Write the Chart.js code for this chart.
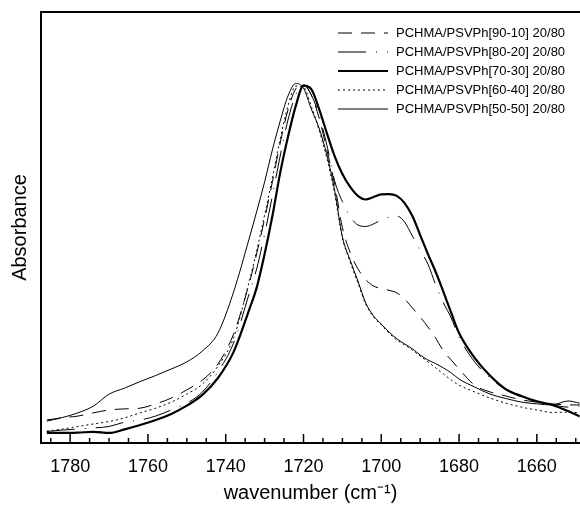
<!DOCTYPE html>
<html>
<head>
<meta charset="utf-8">
<script src="https://cdn.jsdelivr.net/npm/chart.js@4"></script>
<style>
  html, body { margin: 0; padding: 0; background: #fff; overflow: hidden; }
  #marco { width: 580px; height: 507px; }
  canvas { display: block; }
</style>
</head>
<body>
<div id="marco"><canvas id="graficoIR"></canvas></div>
<script>
const numerosOnda = [1786, 1782, 1778, 1774, 1770, 1766, 1762, 1758, 1754, 1750, 1746, 1742, 1738, 1734,
    1732, 1730, 1728, 1726, 1724, 1722, 1720, 1718, 1716, 1714, 1712, 1710, 1708, 1706, 1704, 1702, 1700,
    1698, 1696, 1694, 1692, 1690, 1688, 1686, 1684, 1682, 1680,
    1676, 1672, 1668, 1664, 1660, 1656, 1652, 1649];

const abs90_10 = [0.061, 0.070, 0.075, 0.084, 0.092, 0.095, 0.097, 0.109, 0.125, 0.148, 0.175, 0.220, 0.303, 0.443,
    0.529, 0.624, 0.727, 0.835, 0.927, 0.986, 0.997, 0.969, 0.905, 0.816, 0.720, 0.600, 0.530, 0.485, 0.455, 0.437, 0.430,
    0.425, 0.418, 0.401, 0.376, 0.351, 0.323, 0.292, 0.256, 0.231, 0.206,
    0.161, 0.142, 0.131, 0.120, 0.114, 0.109, 0.106, 0.106];

const abs80_20 = [0.032, 0.036, 0.039, 0.042, 0.046, 0.058, 0.064, 0.075, 0.092, 0.111, 0.142, 0.198, 0.278, 0.415,
    0.487, 0.582, 0.688, 0.799, 0.899, 0.969, 0.997, 0.969, 0.913, 0.830, 0.730, 0.672, 0.630, 0.607, 0.603, 0.610, 0.621,
    0.629, 0.632, 0.615, 0.576, 0.537, 0.498, 0.440, 0.390, 0.348, 0.295,
    0.226, 0.181, 0.148, 0.128, 0.114, 0.106, 0.100, 0.103];

const abs70_30 = [0.028, 0.028, 0.029, 0.031, 0.028, 0.038, 0.050, 0.064, 0.081, 0.104, 0.134, 0.181, 0.253, 0.370,
    0.434, 0.526, 0.632, 0.752, 0.852, 0.938, 0.995, 0.985, 0.930, 0.863, 0.799, 0.749, 0.713, 0.688, 0.678, 0.685, 0.692,
    0.693, 0.688, 0.668, 0.632, 0.579, 0.526, 0.476, 0.420, 0.362, 0.306,
    0.237, 0.187, 0.150, 0.131, 0.116, 0.106, 0.089, 0.074];

const abs60_40 = [0.033, 0.039, 0.046, 0.053, 0.060, 0.070, 0.084, 0.097, 0.114, 0.136, 0.164, 0.214, 0.292, 0.448,
    0.537, 0.635, 0.738, 0.846, 0.938, 0.994, 0.991, 0.938, 0.871, 0.793, 0.695, 0.571, 0.504, 0.445, 0.387, 0.351, 0.329,
    0.306, 0.287, 0.273, 0.259, 0.242, 0.226, 0.209, 0.192, 0.175, 0.161,
    0.142, 0.125, 0.111, 0.100, 0.092, 0.085, 0.086, 0.084];

const abs50_50 = [0.064, 0.071, 0.084, 0.103, 0.136, 0.153, 0.171, 0.188, 0.206, 0.226, 0.256, 0.306, 0.420, 0.568,
    0.646, 0.727, 0.816, 0.896, 0.966, 1.001, 0.988, 0.930, 0.877, 0.802, 0.704, 0.574, 0.509, 0.451, 0.390, 0.354, 0.331,
    0.309, 0.290, 0.276, 0.262, 0.245, 0.231, 0.221, 0.209, 0.195, 0.178,
    0.156, 0.136, 0.124, 0.114, 0.109, 0.106, 0.117, 0.111];

const etiquetas = ['PCHMA/PSVPh[90-10] 20/80', 'PCHMA/PSVPh[80-20] 20/80', 'PCHMA/PSVPh[70-30] 20/80',
    'PCHMA/PSVPh[60-40] 20/80', 'PCHMA/PSVPh[50-50] 20/80'];

const ejeX = { min: 1648.9, max: 1787.5, paso: 5, pasoEtiqueta: 20 };

function puntos(valores) {
    return valores.map((v, i) => ({ x: numerosOnda[i], y: v }));
}

Chart.defaults.font.family = '"Liberation Sans", Arial, Helvetica, sans-serif';
Chart.defaults.color = '#000';

// Leyenda dibujada dentro del área del gráfico, arriba a la derecha
const leyenda = {
    id: 'leyenda',
    afterDraw(chart) {
        const ctx = chart.ctx;
        const area = chart.chartArea;
        chart.data.datasets.forEach((ds, i) => {
            const y = area.top + 21 + i * 19;
            const x0 = area.right - 242;
            ctx.save();
            ctx.strokeStyle = '#000';
            ctx.lineWidth = ds.borderWidth;
            ctx.setLineDash(ds.borderDash || []);
            ctx.beginPath();
            ctx.moveTo(x0, y);
            ctx.lineTo(x0 + 50, y);
            ctx.stroke();
            ctx.setLineDash([]);
            ctx.fillStyle = '#000';
            ctx.font = '13px "Liberation Sans", Arial, sans-serif';
            ctx.textBaseline = 'middle';
            ctx.fillText(ds.label, x0 + 58, y);
            ctx.restore();
        });
    }
};

// Marcas del eje x hacia dentro y línea superior del marco
const marcas = {
    id: 'marcas',
    afterDraw(chart) {
        const ctx = chart.ctx;
        const area = chart.chartArea;
        const sx = chart.scales.x;
        ctx.save();
        ctx.strokeStyle = '#000';
        ctx.lineWidth = 1.5;
        sx.ticks.forEach(t => {
            const px = sx.getPixelForValue(t.value);
            const largo = t.value % ejeX.pasoEtiqueta === 0 ? 9 : 5;
            ctx.beginPath();
            ctx.moveTo(px, area.bottom);
            ctx.lineTo(px, area.bottom - largo);
            ctx.stroke();
        });
        ctx.lineWidth = 2;
        ctx.beginPath();
        ctx.moveTo(area.left - 1, area.top);
        ctx.lineTo(area.right, area.top);
        ctx.stroke();
        ctx.restore();
    }
};

const ctx = document.getElementById('graficoIR').getContext('2d');
new Chart(ctx, {
    type: 'line',
    data: {
        datasets: [
            { label: etiquetas[0], data: puntos(abs90_10), borderWidth: 1, borderDash: [14, 9] },
            { label: etiquetas[1], data: puntos(abs80_20), borderWidth: 1, borderDash: [28, 10, 1, 10] },
            { label: etiquetas[2], data: puntos(abs70_30), borderWidth: 2.2, borderDash: [] },
            { label: etiquetas[3], data: puntos(abs60_40), borderWidth: 1, borderDash: [2, 3] },
            { label: etiquetas[4], data: puntos(abs50_50), borderWidth: 1, borderDash: [] }
        ].map(ds => Object.assign(ds, {
            borderColor: '#000',
            backgroundColor: '#000',
            pointRadius: 0,
            fill: false,
            cubicInterpolationMode: 'monotone'
        }))
    },
    options: {
        responsive: true,
        maintainAspectRatio: false,
        animation: false,
        layout: { autoPadding: false, padding: { top: 12, right: 0, bottom: 0, left: 0 } },
        plugins: {
            legend: { display: false },
            tooltip: { enabled: false }
        },
        scales: {
            x: {
                type: 'linear',
                reverse: true,
                min: ejeX.min,
                max: ejeX.max,
                grid: { display: false, drawTicks: false },
                border: { display: true, color: '#000', width: 2 },
                ticks: {
                    stepSize: ejeX.paso,
                    includeBounds: false,
                    autoSkip: false,
                    maxRotation: 0,
                    minRotation: 0,
                    padding: 13,
                    color: '#000',
                    font: { size: 18 },
                    callback: v => (v % ejeX.pasoEtiqueta === 0 ? String(v) : '')
                },
                title: {
                    display: true,
                    text: 'wavenumber (cm\u207B\u00B9)',
                    color: '#000',
                    font: { size: 20 },
                    padding: { top: 3, bottom: 2 }
                },
                afterFit: s => { s.height = 64; s.paddingLeft = 0; s.paddingRight = 0; }
            },
            y: {
                min: 0,
                max: 1.2,
                grid: { display: false, drawTicks: false },
                border: { display: true, color: '#000', width: 2 },
                ticks: { display: false },
                title: {
                    display: true,
                    text: 'Absorbance',
                    color: '#000',
                    font: { size: 20 },
                    padding: { top: 8, bottom: 9 }
                },
                afterFit: s => { s.width = 41; }
            }
        }
    },
    plugins: [leyenda, marcas]
});
</script>
</body>
</html>
